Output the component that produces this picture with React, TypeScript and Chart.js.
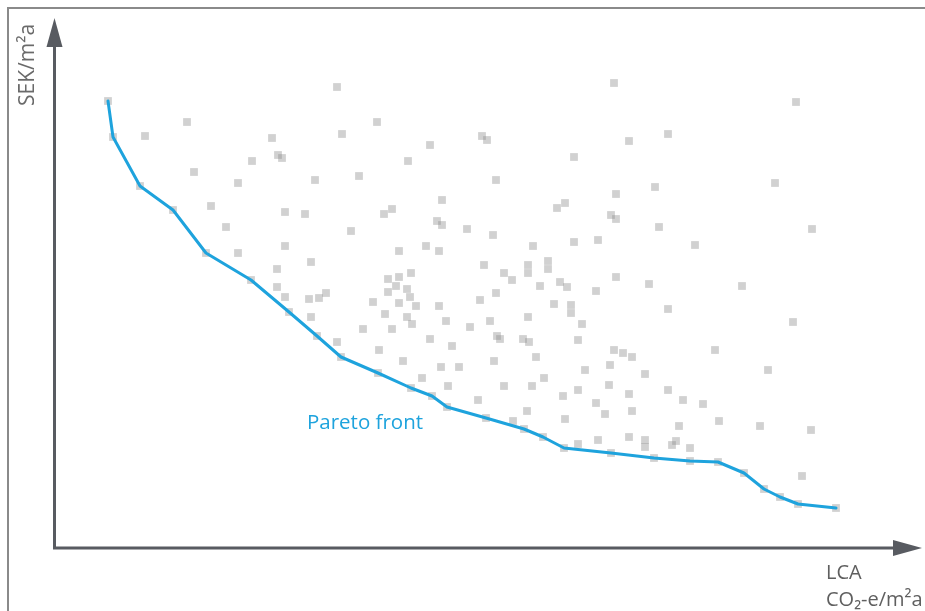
import React, { useEffect, useRef } from "react";
import { Chart, registerables } from "chart.js";

Chart.register(...registerables);

// Arbitrary units (no tick labels in the reference)
const xMax = 867;
const yMax = 530;

// Pareto front (LCA, cost)
const paretoLCA = [53, 58, 85, 118, 151, 196, 234, 262, 286, 323, 356, 377, 392, 431, 469, 488, 509, 556, 599, 635, 663, 689, 709, 725, 743, 781];
const paretoCost = [447, 411, 362, 338, 295, 268, 236, 212, 191, 175, 160, 152, 141, 130, 119, 111, 100, 95, 90, 87, 86, 75, 59, 51, 44, 40];

// Other evaluated solutions
const otherLCA = [
  282, 132, 90, 287, 217, 223, 227, 197, 139, 183, 260, 156, 230, 250, 171, 230, 183, 256, 222, 222, 271, 230,
  322, 427, 432, 375, 353, 519, 304, 441, 387, 337, 329, 502, 510, 382, 387, 412, 296, 438, 519, 543, 478, 344,
  371, 384, 429, 473, 473, 493, 493, 449, 457, 356, 344, 333, 341, 352, 333, 485, 505, 512, 541, 441,
  559, 741, 613, 574, 600, 720, 561, 556, 561, 604, 757, 640, 561, 594, 687,
  254, 264, 256, 282,
  355, 318, 344, 361, 384, 425, 499, 516, 516, 330, 352, 473, 435, 391, 357, 527, 308, 337, 415, 442, 445,
  468, 474, 375, 523, 397, 324, 481, 439, 348, 386, 404, 530, 367, 489, 449, 477, 393, 523, 508, 423, 541,
  472, 510, 458, 523, 543,
  613, 738, 559, 568, 577, 660, 555, 590, 713, 554, 574, 613, 628, 648, 550, 577, 624, 664, 705, 756,
  574, 590, 590, 621, 617, 635, 747,
];
const otherCost = [
  461, 426, 412, 414, 410, 393, 390, 387, 376, 365, 368, 342, 336, 334, 321, 302, 295, 286, 279, 261, 255, 251,
  426, 412, 408, 403, 387, 391, 372, 368, 348, 339, 334, 340, 345, 327, 323, 319, 317, 313, 306, 308, 302, 297,
  302, 297, 283, 283, 275, 287, 279, 275, 268, 275, 271, 269, 262, 259, 256, 262, 266, 261, 257, 255,
  465, 446, 414, 407, 361, 365, 354, 333, 329, 321, 319, 303, 271, 264, 262,
  249, 250, 231, 206,
  251, 246, 245, 242, 242, 248, 244, 243, 235, 234, 231, 231, 227, 227, 224, 224, 219, 219, 221, 212, 209,
  209, 206, 209, 208, 202, 198, 191, 187, 187, 181, 181, 178, 170, 170, 162, 162, 162, 158, 152, 148, 145,
  137, 129, 127, 104, 108,
  239, 226, 198, 195, 191, 198, 183, 174, 178, 163, 154, 158, 148, 144, 134, 137, 122, 127, 122, 118,
  111, 108, 101, 107, 103, 100, 72,
];

const BLUE = "#1ea3dd";
const AXIS = "#585b61";
const FONT = "'Open Sans', 'Noto Sans', sans-serif";

const arrowAxes = {
  id: "arrowAxes",
  beforeDatasetsDraw(chart: any) {
    const { ctx, scales } = chart;
    const xs = scales.x;
    const ys = scales.y;
    const x0 = xs.getPixelForValue(0) - 0.5;
    const y0 = ys.getPixelForValue(0);
    const xEnd = xs.getPixelForValue(xMax);
    const yEnd = ys.getPixelForValue(yMax);
    const headLen = 29;
    const headHalf = 8;
    ctx.save();
    ctx.strokeStyle = AXIS;
    ctx.fillStyle = AXIS;
    ctx.lineWidth = 3;
    ctx.beginPath();
    ctx.moveTo(x0, y0 + 1.5);
    ctx.lineTo(x0, yEnd + headLen - 1);
    ctx.moveTo(x0 - 1.5, y0);
    ctx.lineTo(xEnd - headLen + 1, y0);
    ctx.stroke();
    ctx.beginPath();
    ctx.moveTo(x0, yEnd);
    ctx.lineTo(x0 - headHalf, yEnd + headLen);
    ctx.lineTo(x0 + headHalf, yEnd + headLen);
    ctx.closePath();
    ctx.fill();
    ctx.beginPath();
    ctx.moveTo(xEnd, y0);
    ctx.lineTo(xEnd - headLen, y0 - headHalf);
    ctx.lineTo(xEnd - headLen, y0 + headHalf);
    ctx.closePath();
    ctx.fill();
    ctx.restore();
  },
};

export default function App() {
  const ref = useRef<HTMLCanvasElement>(null);

  useEffect(() => {
    if (!ref.current) return;
    const pareto = paretoLCA.map((v, i) => ({ x: v, y: paretoCost[i] }));
    const others = otherLCA.map((v, i) => ({ x: v, y: otherCost[i] }));
    const chart = new Chart(ref.current, {
      type: "scatter",
      data: {
        datasets: [
          {
            label: "Pareto front",
            data: pareto,
            showLine: true,
            borderColor: BLUE,
            borderWidth: 3,
            borderJoinStyle: "round",
            borderCapStyle: "round",
            pointRadius: 0,
            pointHoverRadius: 0,
            tension: 0,
            order: 0,
          } as any,
          {
            label: "Solutions",
            data: [...others, ...pareto],
            pointStyle: "rect",
            pointRadius: 5.5,
            pointHoverRadius: 5.5,
            backgroundColor: "rgba(140,140,140,0.4)",
            borderWidth: 0,
            order: 1,
          } as any,
        ],
      },
      options: {
        animation: false,
        responsive: false,
        events: [],
        layout: { autoPadding: false, padding: { left: 55, top: 18, right: 3, bottom: 63 } },
        plugins: { legend: { display: false }, tooltip: { enabled: false } },
        scales: {
          x: { type: "linear", min: 0, max: xMax, display: false },
          y: { type: "linear", min: 0, max: yMax, display: false },
        },
      } as any,
      plugins: [arrowAxes],
    });
    return () => chart.destroy();
  }, []);

  const txt: React.CSSProperties = {
    position: "absolute",
    fontFamily: FONT,
    lineHeight: 1,
    whiteSpace: "nowrap",
    margin: 0,
  };

  return (
    <div style={{ position: "fixed", left: 0, top: 0, width: 925, height: 611, background: "#fff", overflow: "hidden" }}>
      <div
        style={{
          position: "absolute",
          left: 7,
          top: 7,
          right: -10,
          bottom: -10,
          borderTop: "2px solid #8a8a8a",
          borderLeft: "2px solid #8a8a8a",
        }}
      />
      <canvas ref={ref} width={925} height={611} style={{ position: "absolute", left: 0, top: 0, width: 925, height: 611 }} />
      <span
        style={{
          ...txt,
          left: 16,
          top: 106,
          fontSize: 21,
          color: "#6a6a6a",
          transform: "rotate(-90deg)",
          transformOrigin: "left top",
        }}
      >
        SEK/m²a
      </span>
      <span style={{ ...txt, left: 826, top: 562, fontSize: 20, color: "#5f5f5f" }}>LCA</span>
      <span style={{ ...txt, left: 826, top: 589, fontSize: 20, color: "#5f5f5f" }}>CO₂-e/m²a</span>
      <span style={{ ...txt, left: 307, top: 411, fontSize: 20.5, color: BLUE }}>Pareto front</span>
    </div>
  );
}
